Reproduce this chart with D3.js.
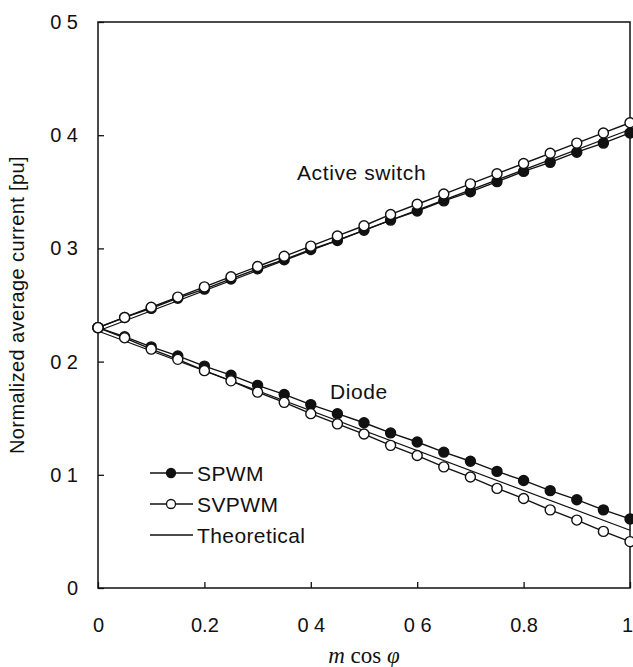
<!DOCTYPE html>
<html>
<head>
<meta charset="utf-8">
<script src="https://cdn.jsdelivr.net/npm/d3@7"></script>
<style>
  body { margin: 0; background: #fff; }
  text { font-family: "Liberation Sans", Arial, sans-serif; fill: #111; }
</style>
</head>
<body>
<div id="container"></div>
<script>
/* CONSTANTS AND GLOBALS */
const width = 633,
  height = 667,
  margin = { top: 22, bottom: 79, left: 98, right: 3 };

// DATA
const mcos = [0, 0.05, 0.1, 0.15, 0.2, 0.25, 0.3, 0.35, 0.4, 0.45, 0.5,
  0.55, 0.6, 0.65, 0.7, 0.75, 0.8, 0.85, 0.9, 0.95, 1];

const spwmSwitch = [0.230, 0.239, 0.247, 0.256, 0.264, 0.273, 0.282, 0.290, 0.299, 0.307, 0.316,
  0.325, 0.333, 0.342, 0.350, 0.359, 0.368, 0.376, 0.385, 0.393, 0.402];
const svpwmSwitch = [0.230, 0.239, 0.248, 0.257, 0.266, 0.275, 0.284, 0.293, 0.302, 0.311, 0.320,
  0.330, 0.339, 0.348, 0.357, 0.366, 0.375, 0.384, 0.393, 0.402, 0.411];
const spwmDiode = [0.230, 0.222, 0.213, 0.205, 0.196, 0.188, 0.179, 0.171, 0.162, 0.154, 0.146,
  0.137, 0.129, 0.120, 0.112, 0.103, 0.095, 0.086, 0.078, 0.069, 0.061];
const svpwmDiode = [0.230, 0.221, 0.211, 0.202, 0.192, 0.183, 0.173, 0.164, 0.154, 0.145, 0.136,
  0.126, 0.117, 0.107, 0.098, 0.088, 0.079, 0.069, 0.060, 0.050, 0.041];

// theoretical straight lines, end points
const theoryX = [0, 1];
const theorySwitch = [0.227, 0.405];
const theoryDiode = [0.227, 0.051];

const yTicks = [0, 0.1, 0.2, 0.3, 0.4, 0.5];
const yTickLabels = ["0", "0 1", "0 2", "0 3", "0 4", "0 5"];
const xTicks = [0, 0.2, 0.4, 0.6, 0.8, 1];
const xTickLabels = ["0", "0.2", "0 4", "0 6", "0.8", "1"];

const legendNames = ["SPWM", "SVPWM", "Theoretical"];

// SCALES
const x = d3.scaleLinear().domain([0, 1]).range([margin.left, width - margin.right]);
const y = d3.scaleLinear().domain([0, 0.5]).range([height - margin.bottom, margin.top]);

const svg = d3.select("#container").append("svg")
  .attr("width", width)
  .attr("height", height)
  .style("display", "block");

// FRAME
svg.append("rect")
  .attr("x", x(0))
  .attr("y", y(0.5))
  .attr("width", x(1) - x(0))
  .attr("height", y(0) - y(0.5))
  .attr("fill", "none")
  .attr("stroke", "#111")
  .attr("stroke-width", 1.5);

// AXES
const yAxis = svg.append("g")
  .attr("transform", `translate(${x(0)},0)`)
  .call(d3.axisLeft(y)
    .tickValues(yTicks)
    .tickFormat((d, i) => yTickLabels[i])
    .tickSizeInner(-6)
    .tickSizeOuter(0)
    .tickPadding(20));

const xAxis = svg.append("g")
  .attr("transform", `translate(0,${y(0)})`)
  .call(d3.axisBottom(x)
    .tickValues(xTicks)
    .tickFormat((d, i) => xTickLabels[i])
    .tickSizeInner(-6)
    .tickSizeOuter(0)
    .tickPadding(30));

[yAxis, xAxis].forEach(g => {
  g.select(".domain").remove();
  g.selectAll("line").attr("stroke", "#111").attr("stroke-width", 1.3);
  g.selectAll("text").style("font-size", "20px").attr("fill", "#111")
    .style("font-family", '"Liberation Sans", Arial, sans-serif');
});
// last x label sits on the page edge; nudge it in
xAxis.selectAll(".tick").filter(d => d === 1).select("text").attr("dx", -3);

// LINES
const lineGen = d3.line().x(d => x(d[0])).y(d => y(d[1]));
const zipped = vals => mcos.map((m, i) => [m, vals[i]]);

[theorySwitch, theoryDiode].forEach(t => {
  svg.append("path")
    .datum(theoryX.map((m, i) => [m, t[i]]))
    .attr("d", lineGen)
    .attr("fill", "none")
    .attr("stroke", "#111")
    .attr("stroke-width", 1.2);
});

const series = [
  { vals: spwmSwitch, fill: "#111" },
  { vals: spwmDiode, fill: "#111" },
  { vals: svpwmSwitch, fill: "#fff" },
  { vals: svpwmDiode, fill: "#fff" }
];

series.forEach(s => {
  svg.append("path")
    .datum(zipped(s.vals))
    .attr("d", lineGen)
    .attr("fill", "none")
    .attr("stroke", "#111")
    .attr("stroke-width", 1.4);
});

series.forEach(s => {
  svg.selectAll(null)
    .data(zipped(s.vals))
    .join("circle")
    .attr("cx", d => x(d[0]))
    .attr("cy", d => y(d[1]))
    .attr("r", 5)
    .attr("fill", s.fill)
    .attr("stroke", "#111")
    .attr("stroke-width", 1.4);
});

// ANNOTATIONS
svg.append("text").attr("x", 297).attr("y", 180)
  .style("font-size", "21px").style("letter-spacing", "0.6px").text("Active switch");
svg.append("text").attr("x", 330).attr("y", 399)
  .style("font-size", "21px").style("letter-spacing", "0.6px").text("Diode");

// LEGEND
const legend = svg.append("g").attr("transform", "translate(150,473)");
const rows = legend.selectAll("g")
  .data(legendNames)
  .join("g")
  .attr("transform", (d, i) => `translate(0,${i * 31})`);

rows.append("line")
  .attr("x1", 0).attr("x2", 43)
  .attr("stroke", "#111").attr("stroke-width", 1.3);

rows.filter((d, i) => i < 2).append("circle")
  .attr("cx", 21)
  .attr("r", 4.5)
  .attr("fill", (d, i) => i === 0 ? "#111" : "#fff")
  .attr("stroke", "#111")
  .attr("stroke-width", 1.3);

rows.append("text")
  .attr("x", 47)
  .attr("dy", "0.36em")
  .style("font-size", "21px")
  .style("letter-spacing", "0.4px")
  .text(d => d);

// AXIS TITLES
svg.append("text")
  .attr("transform", `translate(24,305) rotate(-90)`)
  .attr("text-anchor", "middle")
  .style("font-size", "20px")
  .style("letter-spacing", "0.4px")
  .text("Normalized average current [pu]");

const xt = svg.append("text")
  .attr("x", x(0.5))
  .attr("y", 663)
  .attr("text-anchor", "middle")
  .style("font-family", '"Liberation Serif", "Times New Roman", serif')
  .style("font-size", "23px");
xt.append("tspan").style("font-style", "italic").text("m");
xt.append("tspan").text(" cos ");
xt.append("tspan").style("font-style", "italic").text("φ");
</script>
</body>
</html>
